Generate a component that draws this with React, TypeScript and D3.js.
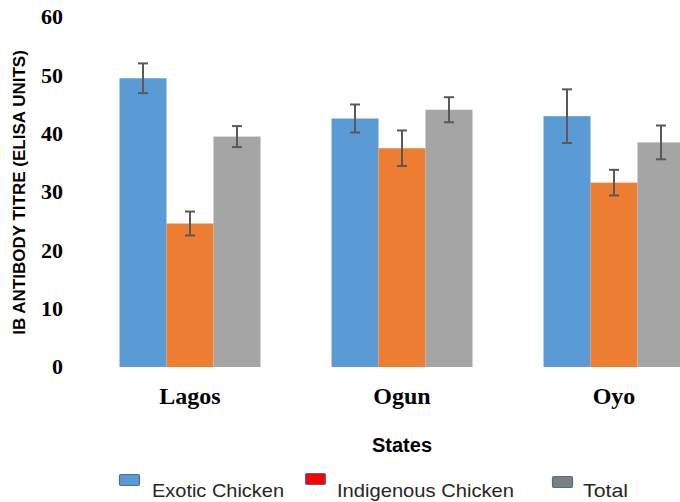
import React from "react";
import * as d3 from "d3";

// Mean IB antibody titre by state and bird type, with standard error
const states = ["Lagos", "Ogun", "Oyo"];
const seriesNames = ["Exotic Chicken", "Indigenous Chicken", "Total"];
const exoticValues = [49.5, 42.6, 43.0];
const indigenousValues = [24.6, 37.5, 31.6];
const totalValues = [39.5, 44.1, 38.5];
const exoticErrors = [2.55, 2.4, 4.6];
const indigenousErrors = [2.05, 3.05, 2.2];
const totalErrors = [1.8, 2.15, 2.9];
const yTicks = [0, 10, 20, 30, 40, 50, 60];

const barColors = ["#5B9BD5", "#ED7D31", "#A5A5A5"];
const legendFills = ["#5B9BD5", "#FF0000", "#7F7F7F"];
const legendStroke = "#41719C";

const W = 680;
const H = 502;

export default function App() {
  const values = [exoticValues, indigenousValues, totalValues];
  const errors = [exoticErrors, indigenousErrors, totalErrors];

  const x0 = d3
    .scaleBand<string>()
    .domain(states)
    .range([84, 720])
    .paddingInner(0.335)
    .paddingOuter(0.1675);
  const x1 = d3
    .scaleBand<string>()
    .domain(seriesNames)
    .range([0, x0.bandwidth()])
    .padding(0);
  const y = d3.scaleLinear().domain([0, 60]).range([367, 17]);

  const serif = "'Liberation Serif', 'Times New Roman', serif";
  const sans = "'Liberation Sans', Arial, sans-serif";

  const legendItems = [
    { sx: 119, sy: 474, tx: 152, len: 132 },
    { sx: 305, sy: 473, tx: 337, len: 177 },
    { sx: 552, sy: 476, tx: 583, len: 45 },
  ];

  return (
    <svg
      width={W}
      height={H}
      style={{ position: "absolute", left: 0, top: 0, background: "#fff" }}
    >
      <rect x={0} y={0} width={W} height={H} fill="#fff" />

      {/* y tick labels */}
      {yTicks.map((t) => (
        <text
          key={t}
          x={63}
          y={y(t)}
          dy="0.34em"
          textAnchor="end"
          fontFamily={serif}
          fontWeight="bold"
          fontSize={22}
          fill="#000"
        >
          {t}
        </text>
      ))}

      {/* y axis title */}
      <text
        transform={`translate(25,192.5) rotate(-90)`}
        textAnchor="middle"
        fontFamily={sans}
        fontWeight="bold"
        fontSize={17}
        fill="#000"
      >
        IB ANTIBODY TITRE (ELISA UNITS)
      </text>

      {/* bars */}
      {states.map((s, i) => (
        <g key={s} transform={`translate(${x0(s)},0)`}>
          {seriesNames.map((name, k) => {
            const v = values[k][i];
            const bx = x1(name)!;
            return (
              <rect
                key={name}
                x={bx}
                y={y(v)}
                width={x1.bandwidth()}
                height={y(0) - y(v)}
                fill={barColors[k]}
              />
            );
          })}
          {seriesNames.map((name, k) => {
            const v = values[k][i];
            const e = errors[k][i];
            const cx = x1(name)! + x1.bandwidth() / 2;
            return (
              <g key={name + "-err"} stroke="#595959" strokeWidth={2}>
                <line x1={cx} x2={cx} y1={y(v + e)} y2={y(v - e)} />
                <line x1={cx - 5} x2={cx + 5} y1={y(v + e)} y2={y(v + e)} />
                <line x1={cx - 5} x2={cx + 5} y1={y(v - e)} y2={y(v - e)} />
              </g>
            );
          })}
        </g>
      ))}

      {/* category labels */}
      {states.map((s) => (
        <text
          key={s}
          x={x0(s)! + x0.bandwidth() / 2}
          y={404}
          textAnchor="middle"
          fontFamily={serif}
          fontWeight="bold"
          fontSize={24}
          fill="#000"
        >
          {s}
        </text>
      ))}

      {/* x axis title */}
      <text
        x={402}
        y={452}
        textAnchor="middle"
        fontFamily={sans}
        fontWeight="bold"
        fontSize={20}
        fill="#000"
      >
        States
      </text>

      {/* legend */}
      {seriesNames.map((name, k) => {
        const it = legendItems[k];
        return (
          <g key={name}>
            <rect
              x={it.sx + 0.5}
              y={it.sy + 0.5}
              width={20}
              height={11}
              rx={1.5}
              fill={legendFills[k]}
              stroke={legendStroke}
              strokeWidth={1.2}
            />
            <text
              x={it.tx}
              y={497}
              fontFamily={sans}
              fontSize={18.5}
              fill="#262626"
              textLength={it.len}
              lengthAdjust="spacingAndGlyphs"
            >
              {name}
            </text>
          </g>
        );
      })}
    </svg>
  );
}
